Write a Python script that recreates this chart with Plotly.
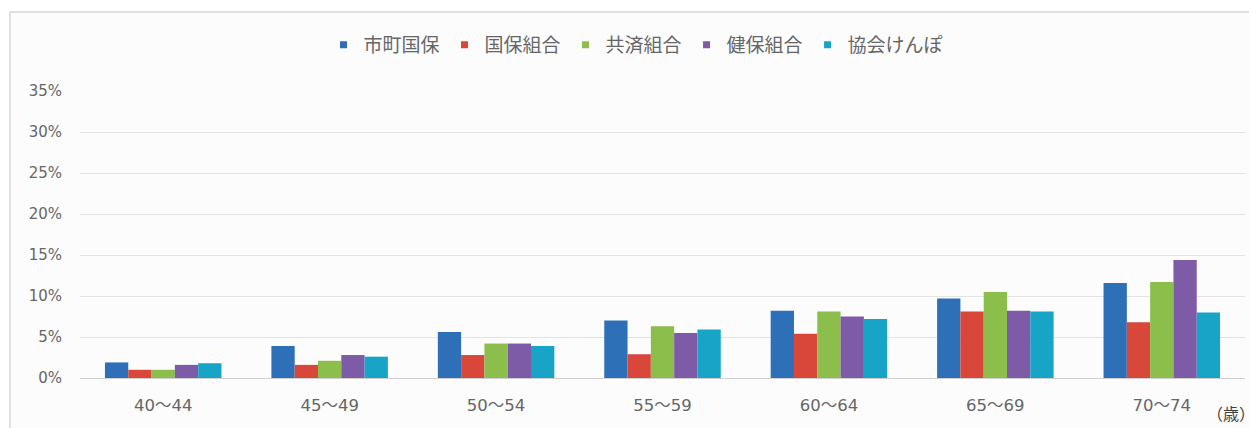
import plotly.graph_objects as go

categories = ["40～44", "45～49", "50～54", "55～59", "60～64", "65～69", "70～74"]
series_names = ["市町国保", "国保組合", "共済組合", "健保組合", "協会けんぽ"]
shicho_kokuho = [0.019, 0.039, 0.056, 0.070, 0.082, 0.097, 0.116]
kokuho_kumiai = [0.010, 0.016, 0.028, 0.029, 0.054, 0.081, 0.068]
kyosai_kumiai = [0.010, 0.021, 0.042, 0.063, 0.081, 0.105, 0.117]
kenpo_kumiai = [0.016, 0.028, 0.042, 0.055, 0.075, 0.082, 0.144]
kyokai_kenpo = [0.018, 0.026, 0.039, 0.059, 0.072, 0.081, 0.080]
y_ticks = [0, 0.05, 0.10, 0.15, 0.20, 0.25, 0.30, 0.35]
y_tick_labels = ["0%", "5%", "10%", "15%", "20%", "25%", "30%", "35%"]

colors = ["#2E70B8", "#D9473B", "#8CBE4B", "#7D5BA6", "#18A4C6"]
all_values = [shicho_kokuho, kokuho_kumiai, kyosai_kumiai, kenpo_kumiai, kyokai_kenpo]

fig = go.Figure()
for name, vals, col in zip(series_names, all_values, colors):
    fig.add_trace(go.Bar(x=categories, y=vals, name=name, marker=dict(color=col, line=dict(width=0)),
                         showlegend=False))
for name, col in zip(series_names, colors):
    fig.add_trace(go.Scatter(x=[None], y=[None], mode="markers", name=name,
                             marker=dict(symbol="square", size=7, color=col)))

# page body adds an 8px offset; figure is sized so it fits the window
OFF = 8
W, H = 1257 - OFF, 428 - OFF
L, R, T, B = 80 - OFF, W - (1245 - OFF), 91 - OFF, H - (378 - OFF)
pw = W - L - R
ph = H - T - B

def px_x(p):
    return (p - OFF - L) / pw

def px_y(p):
    return (H - B - (p - OFF)) / ph

fig.add_shape(type="rect", xref="paper", yref="paper",
              x0=px_x(10), x1=px_x(1275), y0=px_y(445), y1=px_y(12),
              fillcolor="#FCFCFC", line=dict(color="#D6D6D6", width=1.5), layer="below")

fig.add_annotation(text="（歳）", xref="paper", yref="paper", x=px_x(1231), y=px_y(413),
                   showarrow=False, font=dict(size=16, color="#404040",
                                              family="Noto Sans CJK JP"),
                   xanchor="center", yanchor="middle")

TICK_FONT = "DejaVu Sans, Noto Sans CJK JP"

fig.update_layout(
    width=W, height=H,
    margin=dict(l=L, r=R, t=T, b=B, autoexpand=False),
    paper_bgcolor="white",
    plot_bgcolor="rgba(0,0,0,0)",
    barmode="group",
    bargap=0.30,
    bargroupgap=0,
    font=dict(family="Noto Sans CJK JP", color="#595959"),
    legend=dict(orientation="h", x=px_x(636), y=px_y(45), xanchor="center", yanchor="middle",
                font=dict(size=19, color="#666666"), bgcolor="rgba(0,0,0,0)",
                itemwidth=30, tracegroupgap=0),
    xaxis=dict(showgrid=False, showline=False, ticks="",
               tickfont=dict(size=16.5, color="#666666", family=TICK_FONT),
               ticklabelstandoff=15),
    yaxis=dict(range=[0, 0.35], tickvals=y_ticks, ticktext=y_tick_labels,
               showgrid=True, gridcolor="#E3E3E3", gridwidth=1,
               zeroline=True, zerolinecolor="#D0D0D0", zerolinewidth=1,
               showline=False, ticks="",
               tickfont=dict(size=15, color="#666666", family=TICK_FONT),
               ticklabelstandoff=17),
)

fig.write_html("out.html")
